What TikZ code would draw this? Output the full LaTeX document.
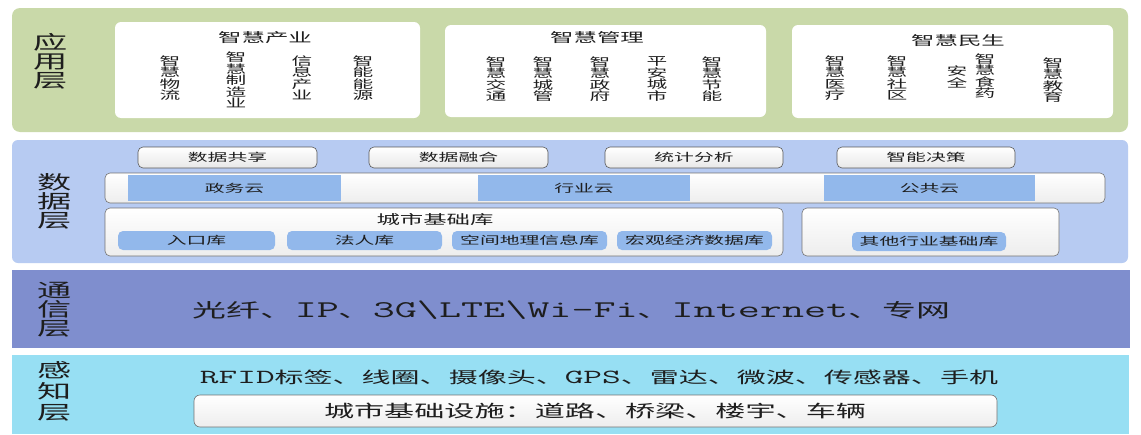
\documentclass[tikz,border=0pt]{standalone}
\usepackage{fontspec}
\newfontfamily\cjk{Noto Sans CJK SC}
\definecolor{appgreen}{RGB}{201,217,169}
\definecolor{datablue}{RGB}{183,203,242}
\definecolor{pillblue}{RGB}{146,184,235}
\definecolor{commblue}{RGB}{127,142,206}
\definecolor{senseblue}{RGB}{151,223,243}
\definecolor{txt}{RGB}{30,30,30}
\newcommand\hx[1]{\scalebox{1.8}[1]{#1}}
\newcommand\lat[2]{{\ttfamily\fontsize{#1}{#1}\selectfont #2}}
\tikzset{
  layerbox/.style={inner sep=0pt},
  whitebox/.style={fill=white, rounded corners=6pt, inner sep=0pt},
  btn/.style={draw=black!65, line width=0.6pt, rounded corners=5pt, top color=white, bottom color=black!9, inner sep=0pt, font=\cjk\fontsize{11}{11}\selectfont, text=txt},
  framebox/.style={draw=black!55, line width=0.6pt, rounded corners=5pt, top color=white, bottom color=black!7, inner sep=0pt},
  cloudbox/.style={fill=pillblue, inner sep=0pt, font=\cjk\fontsize{11}{11}\selectfont, text=txt},
  pill/.style={fill=pillblue, rounded corners=5pt, inner sep=0pt, font=\cjk\fontsize{11}{11}\selectfont, text=txt},
  lbl/.style={font=\cjk\fontsize{19}{19}\selectfont, align=center, inner sep=0pt, text=txt},
  vcol/.style={font=\cjk\fontsize{11.5}{11.5}\selectfont, align=center, inner sep=0pt, text=txt},
  ttl/.style={font=\cjk\fontsize{13}{13}\selectfont, inner sep=0pt, text=txt},
  plain/.style={inner sep=0pt, text=txt},
}
\begin{document}
\begin{tikzpicture}[x=1pt,y=-1pt]
\useasboundingbox[fill=white] (0,0) rectangle (1141,434);

% ---------- application layer ----------
\node[layerbox, fill=appgreen, rounded corners=8pt, minimum width=1116pt, minimum height=124pt] (app) at (570,70) {};
\node[whitebox, minimum width=305pt, minimum height=96pt] (ab1) at (267.5,70) {};
\node[whitebox, minimum width=321pt, minimum height=92pt] (ab2) at (605.5,71) {};
\node[whitebox, minimum width=321pt, minimum height=93pt] (ab3) at (952.5,71.5) {};
\node[lbl] (applbl) at (51,61.5) {\hx{应}\\\hx{用}\\\hx{层}};

\node[ttl] (t1) at (265,38) {\hx{智慧产业}};
\node[vcol] (v11) at (170,78) {\hx{智}\\\hx{慧}\\\hx{物}\\\hx{流}};
\node[vcol] (v12) at (236,80) {\hx{智}\\\hx{慧}\\\hx{制}\\\hx{造}\\\hx{业}};
\node[vcol] (v13) at (302,78) {\hx{信}\\\hx{息}\\\hx{产}\\\hx{业}};
\node[vcol] (v14) at (363,78) {\hx{智}\\\hx{能}\\\hx{能}\\\hx{源}};

\node[ttl] (t2) at (597,38) {\hx{智慧管理}};
\node[vcol] (v21) at (496,79) {\hx{智}\\\hx{慧}\\\hx{交}\\\hx{通}};
\node[vcol] (v22) at (543,79) {\hx{智}\\\hx{慧}\\\hx{城}\\\hx{管}};
\node[vcol] (v23) at (600,79) {\hx{智}\\\hx{慧}\\\hx{政}\\\hx{府}};
\node[vcol] (v24) at (657,79) {\hx{平}\\\hx{安}\\\hx{城}\\\hx{市}};
\node[vcol] (v25) at (712,79) {\hx{智}\\\hx{慧}\\\hx{节}\\\hx{能}};

\node[ttl] (t3) at (958,41) {\hx{智慧民生}};
\node[vcol] (v31) at (835,78) {\hx{智}\\\hx{慧}\\\hx{医}\\\hx{疗}};
\node[vcol] (v32) at (897,78) {\hx{智}\\\hx{慧}\\\hx{社}\\\hx{区}};
\node[vcol] (v33) at (957,77) {\hx{安}\\\hx{全}};
\node[vcol] (v34) at (985,76) {\hx{智}\\\hx{慧}\\\hx{食}\\\hx{药}};
\node[vcol] (v35) at (1053,80) {\hx{智}\\\hx{慧}\\\hx{教}\\\hx{育}};

% ---------- data layer ----------
\node[layerbox, fill=datablue, rounded corners=6pt, minimum width=1116pt, minimum height=123pt] (data) at (570,201.5) {};
\node[lbl] (datalbl) at (55,201) {\hx{数}\\\hx{据}\\\hx{层}};

\node[btn, minimum width=179pt, minimum height=21pt] (b1) at (227.5,157.5) {\hx{数据共享}};
\node[btn, minimum width=179pt, minimum height=21pt] (b2) at (458.5,157.5) {\hx{数据融合}};
\node[btn, minimum width=178pt, minimum height=21pt] (b3) at (694,157.5) {\hx{统计分析}};
\node[btn, minimum width=178pt, minimum height=21pt] (b4) at (926,157.5) {\hx{智能决策}};

\node[framebox, minimum width=1000pt, minimum height=30pt] (crow) at (605,188) {};
\node[cloudbox, minimum width=213pt, minimum height=26pt] (c1) at (234.5,188) {\hx{政务云}};
\node[cloudbox, minimum width=212pt, minimum height=26pt] (c2) at (584,188) {\hx{行业云}};
\node[cloudbox, minimum width=211pt, minimum height=26pt] (c3) at (929.5,188) {\hx{公共云}};

\node[framebox, minimum width=678pt, minimum height=48pt] (base) at (444,232) {};
\node[plain, font=\cjk\fontsize{13}{13}\selectfont] (basettl) at (435,220) {\hx{城市基础库}};
\node[pill, minimum width=157pt, minimum height=19pt] (p1) at (196.5,240.5) {\hx{入口库}};
\node[pill, minimum width=155pt, minimum height=19pt] (p2) at (364.5,240.5) {\hx{法人库}};
\node[pill, minimum width=155pt, minimum height=19pt] (p3) at (529.5,240.5) {\hx{空间地理信息库}};
\node[pill, minimum width=155pt, minimum height=19pt] (p4) at (694.5,240.5) {\hx{宏观经济数据库}};

\node[framebox, minimum width=257pt, minimum height=48pt] (other) at (930.5,232) {};
\node[pill, minimum width=154pt, minimum height=19pt] (p5) at (929,241.5) {\hx{其他行业基础库}};

% ---------- communication layer ----------
\node[layerbox, fill=commblue, minimum width=1118pt, minimum height=78pt] (comm) at (571,309) {};
\node[lbl] (commlbl) at (55,310) {\hx{通}\\\hx{信}\\\hx{层}};
\node[plain] (commtxt) at (571.5,310) {\resizebox{757pt}{\height}{\cjk\fontsize{19}{19}\selectfont 光纤、\lat{24}{IP}、\lat{24}{3G\textbackslash LTE\textbackslash Wi-Fi}、\lat{24}{Internet}、专网}};

% ---------- sensing layer ----------
\node[layerbox, fill=senseblue, minimum width=1117pt, minimum height=79pt] (sense) at (570.5,394.5) {};
\node[lbl, font=\cjk\fontsize{19}{21}\selectfont] (senselbl) at (55,391) {\hx{感}\\\hx{知}\\\hx{层}};
\node[plain] (sensetxt) at (599,377) {\resizebox{798pt}{\height}{\cjk\fontsize{16}{16}\selectfont \lat{20}{RFID}标签、线圈、摄像头、\lat{20}{GPS}、雷达、微波、传感器、手机}};
\node[framebox, minimum width=803pt, minimum height=32pt, rounded corners=6pt] (infra) at (595.5,411) {};
\node[plain] (infratxt) at (595,411) {\resizebox{542pt}{\height}{\cjk\fontsize{17}{17}\selectfont 城市基础设施：道路、桥梁、楼宇、车辆}};
\end{tikzpicture}
\end{document}
